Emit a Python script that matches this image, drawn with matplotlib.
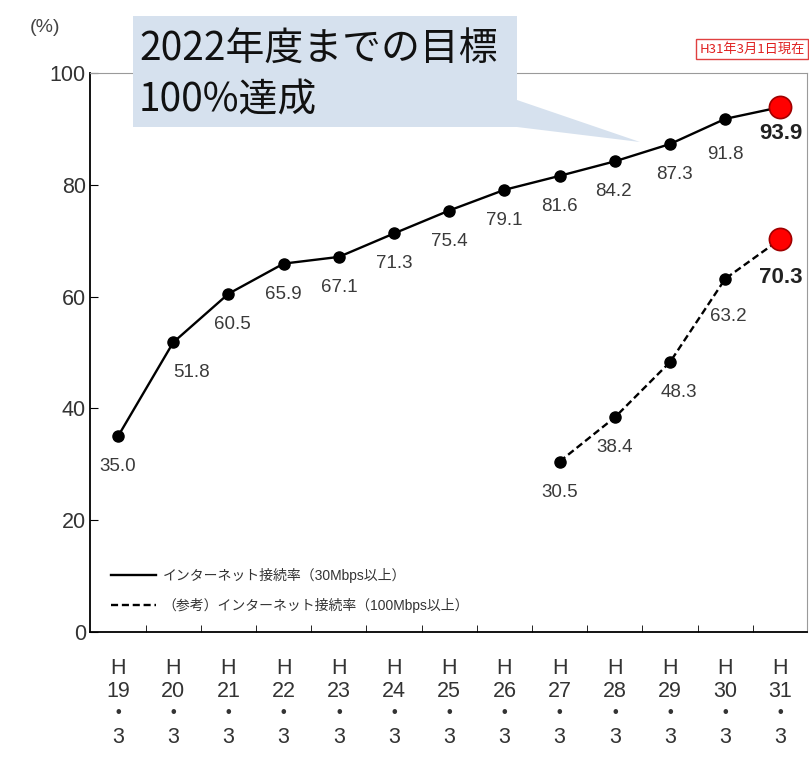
import matplotlib.pyplot as plt
from matplotlib.patches import Polygon

plt.rcParams['font.family'] = ['Liberation Sans', 'Noto Sans CJK JP', 'DejaVu Sans']

years = ['H\n19\n・\n3', 'H\n20\n・\n3', 'H\n21\n・\n3', 'H\n22\n・\n3', 'H\n23\n・\n3',
         'H\n24\n・\n3', 'H\n25\n・\n3', 'H\n26\n・\n3', 'H\n27\n・\n3', 'H\n28\n・\n3',
         'H\n29\n・\n3', 'H\n30\n・\n3', 'H\n31\n・\n3']
rate_30 = [35.0, 51.8, 60.5, 65.9, 67.1, 71.3, 75.4, 79.1, 81.6, 84.2, 87.3, 91.8, 93.9]
rate_100 = [30.5, 38.4, 48.3, 63.2, 70.3]
start_100 = 8  # H27

label_30 = 'インターネット接続率（30Mbps以上）'
label_100 = '（参考）インターネット接続率（100Mbps以上）'

W, H = 809, 759
fig = plt.figure(figsize=(W / 100, H / 100), dpi=100)
ax = fig.add_axes([90 / W, 1 - 632 / H, (807 - 90) / W, (632 - 73) / H])

x30 = list(range(len(rate_30)))
x100 = list(range(start_100, start_100 + len(rate_100)))

ax.plot(x30, rate_30, color='black', lw=1.7, label=label_30)
ax.plot(x100, rate_100, color='black', lw=1.7, ls=(0, (3, 1.6)), label=label_100)
ax.plot(x30[:-1], rate_30[:-1], 'o', color='black', ms=8)
ax.plot(x100[:-1], rate_100[:-1], 'o', color='black', ms=8)
ax.plot([x30[-1], x100[-1]], [rate_30[-1], rate_100[-1]], 'o', ms=16,
        markerfacecolor='#ff0000', markeredgecolor='#a00000', markeredgewidth=1.2, zorder=5)

# data labels
dx30 = {1: 13, 2: 3, 9: -1, 10: 3}
dy30 = {11: -26, 12: -19}
for i, (x, v) in enumerate(zip(x30, rate_30)):
    last = i == len(rate_30) - 1
    ax.annotate(f'{v:.1f}', (x, v), xytext=(dx30.get(i, 0), dy30.get(i, -22)),
                textcoords='offset points', ha='center', va='center',
                fontsize=16 if last else 13.5, fontweight='bold' if last else 'normal',
                color='#222222' if last else '#3a3a3a')
dx100 = {2: 6, 3: 2}
dy100 = {3: -27, 4: -28}
for j, (x, v) in enumerate(zip(x100, rate_100)):
    last = j == len(rate_100) - 1
    ax.annotate(f'{v:.1f}', (x, v), xytext=(dx100.get(j, 0), dy100.get(j, -22)),
                textcoords='offset points', ha='center', va='center',
                fontsize=16 if last else 13.5, fontweight='bold' if last else 'normal',
                color='#222222' if last else '#3a3a3a')

ax.set_xlim(-0.507, 12.48)
ax.set_ylim(0, 100)
ax.set_yticks([0, 20, 40, 60, 80, 100])
ax.tick_params(axis='y', direction='in', length=6, labelsize=15.5, labelcolor='#333333', pad=3)
ax.set_xticks(x30)
ax.set_xticklabels(years, linespacing=1.12)
ax.set_xticks([i + 0.5 for i in range(len(rate_30) - 1)], minor=True)
ax.tick_params(axis='x', which='major', length=0, labelsize=15.5, labelcolor='#333333', pad=19)
ax.tick_params(axis='x', which='minor', direction='in', length=5)
ax.spines['top'].set_color('#9a9a9a')
ax.spines['right'].set_color('#9a9a9a')
ax.spines['left'].set_linewidth(1.3)
ax.spines['bottom'].set_linewidth(1.3)

ax.legend(loc='lower left', bbox_to_anchor=(0.012, 0.012), frameon=False,
          fontsize=10, handlelength=3.2, handletextpad=0.5, labelspacing=1.05,
          labelcolor='#333333')

# callout
pts = [(133, 16), (517, 16), (517, 100), (640, 142), (517, 127), (133, 127)]
box = Polygon([(px / W, 1 - py / H) for px, py in pts], closed=True,
              transform=fig.transFigure, facecolor='#d6e1ee', edgecolor='none', zorder=10)
fig.patches.append(box)
fig.text(139 / W, 1 - 75 / H, '2022年度までの目標\n100%達成', fontsize=28, color='#111111',
         va='center', ha='left', linespacing=1.35, zorder=11,
         family=['Noto Sans CJK JP', 'DejaVu Sans'])

fig.text(45 / W, 1 - 27 / H, '(%)', fontsize=14, color='#444444', ha='center', va='center')
fig.text(752 / W, 1 - 49 / H, 'H31年3月1日現在', fontsize=9.5, color='#e02020', ha='center',
         va='center', family=['Noto Sans CJK JP', 'DejaVu Sans'],
         bbox=dict(boxstyle='square,pad=0.25', facecolor='white', edgecolor='#e04040', lw=1))

fig.savefig('out.png', dpi=100)
